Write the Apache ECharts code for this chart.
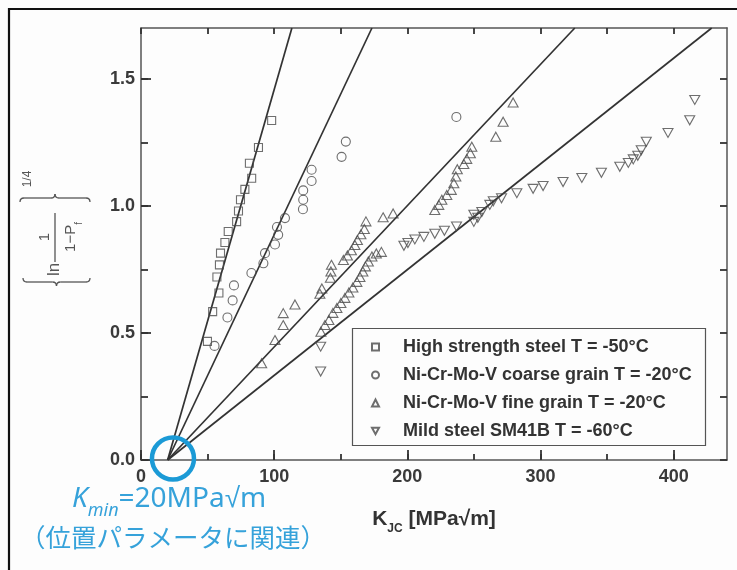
<!DOCTYPE html>
<html>
<head>
<meta charset="utf-8">
<script src="https://cdn.jsdelivr.net/npm/echarts@6/dist/echarts.min.js"></script>
<style>
html,body{margin:0;padding:0;background:#fdfdfd;}
#c{width:737px;height:570px;}
</style>
</head>
<body>
<div id="c"></div>
<script>
// ---- data ----
const seriesNames = [
  'High strength steel T = -50°C',
  'Ni-Cr-Mo-V coarse grain T = -20°C',
  'Ni-Cr-Mo-V fine grain T = -20°C',
  'Mild steel SM41B T = -60°C'
];
const highX = [98.1, 88.2, 81.4, 83.1, 78.0, 74.7, 73.2, 71.8, 65.5, 63.0, 59.7, 58.9, 57.0, 58.5, 53.8, 49.9];
const highY = [1.336, 1.230, 1.168, 1.109, 1.065, 1.024, 0.980, 0.938, 0.899, 0.856, 0.814, 0.768, 0.720, 0.657, 0.584, 0.467];

const coarseX = [236.8, 153.8, 150.6, 128.1, 128.1, 121.8, 121.8, 121.6, 108.1, 102.1, 103.0, 100.6, 93.1, 91.9, 82.9, 69.8, 68.8, 64.9, 55.2];
const coarseY = [1.350, 1.253, 1.193, 1.142, 1.098, 1.061, 1.024, 0.987, 0.952, 0.917, 0.886, 0.848, 0.814, 0.774, 0.736, 0.687, 0.628, 0.561, 0.449];

const fineX = [90.6, 100.6, 106.8, 106.8, 115.6, 134.3, 135.8, 142.2, 142.6, 143.0, 152.0, 155.0, 158.0, 160.6, 162.5, 165.1, 167.7, 168.9, 181.8, 189.3, 220.6, 223.6, 225.9, 229.6, 233.0, 234.9, 236.4, 237.5, 242.4, 244.6, 247.3, 248.4, 266.4, 271.9, 279.4,
  135.1, 138.1, 141.1, 144.1, 147.1, 150.1, 153.1, 156.1, 159.1, 162.1, 164.4, 166.6, 168.5, 170.7, 173.4, 176.7, 180.5];
const fineY = [0.381, 0.472, 0.531, 0.578, 0.612, 0.654, 0.675, 0.717, 0.742, 0.768, 0.787, 0.805, 0.825, 0.846, 0.866, 0.888, 0.909, 0.939, 0.955, 0.970, 0.984, 1.004, 1.024, 1.043, 1.063, 1.089, 1.116, 1.144, 1.165, 1.185, 1.207, 1.233, 1.272, 1.331, 1.407,
  0.505, 0.531, 0.551, 0.579, 0.598, 0.618, 0.638, 0.659, 0.679, 0.701, 0.720, 0.742, 0.762, 0.781, 0.801, 0.813, 0.819];

const mildX = [134.9, 134.9, 197.4, 200.4, 205.6, 212.4, 220.6, 227.8, 236.9, 249.9, 249.9, 252.9, 255.9, 261.9, 264.5, 270.7, 282.2, 294.4, 301.9, 316.9, 331.0, 345.7, 359.5, 365.9, 369.6, 373.0, 375.6, 379.4, 395.7, 412.0, 415.8];
const mildY = [0.348, 0.446, 0.843, 0.854, 0.868, 0.878, 0.890, 0.902, 0.919, 0.937, 0.965, 0.953, 0.976, 1.004, 1.018, 1.030, 1.050, 1.067, 1.078, 1.094, 1.110, 1.130, 1.154, 1.169, 1.183, 1.197, 1.219, 1.252, 1.287, 1.337, 1.417];

// fitted lines: all start at Kmin and leave the plot at the top edge
const lineStartX = 20;
const lineStartY = 0;
const lineTopX = [113.3, 173.4, 325.7, 428.5];
const lineTopY = 1.7;

const xMin = 0, xMax = 440, yMin = 0, yMax = 1.7;
const xMajorTicks = [0, 100, 200, 300, 400];
const xMinorTicks = [0, 50, 100, 150, 200, 250, 300, 350, 400];
const yMajorTicks = [0, 0.5, 1.0, 1.5];
const yMinorTicks = [0, 0.25, 0.5, 0.75, 1.0, 1.25, 1.5];
const kminCircleCenter = [24, 0];

// ---- chart ----
const chart = echarts.init(document.getElementById('c'), null, {renderer: 'canvas'});
const zip = (xs, ys) => xs.map((x, i) => [x, ys[i]]);
const pts = [zip(highX, highY), zip(coarseX, coarseY), zip(fineX, fineY), zip(mildX, mildY)];
const symbols = ['rect', 'circle', 'triangle', 'path://M0,0L20,0L10,18Z'];
const sizes = [8, 9, [10, 9], [10, 9]];

const markerStyle = {color: 'rgba(255,255,255,0)', borderColor: '#4a4a4a', borderWidth: 1.1};
const series = [];
for (let i = 0; i < 4; i++) {
  series.push({
    type: 'scatter', name: seriesNames[i], data: pts[i],
    symbol: symbols[i], symbolSize: sizes[i],
    itemStyle: markerStyle, xAxisIndex: 0, yAxisIndex: 0, z: 3,
    emphasis: {disabled: true}
  });
}
// every axis (all share the same range) carries one fit line so that its ticks are drawn
const lineAxis = [0, 1, 2, 0];
for (let i = 0; i < 4; i++) {
  series.push({
    type: 'line', name: 'fit' + i,
    data: [[lineStartX, lineStartY], [lineTopX[i], lineTopY]],
    symbol: 'none', lineStyle: {color: '#333', width: 1.7},
    xAxisIndex: lineAxis[i], yAxisIndex: lineAxis[i], z: 2, silent: true
  });
}

const labelFont = {fontFamily: 'Liberation Sans, Arial, sans-serif', fontWeight: 'bold', fontSize: 18, color: '#3a3a3a'};
const tickStyle = {color: '#333', width: 1.8};
const lineSt = {color: '#555', width: 1.5};

function ax(min, max, extra) {
  return Object.assign({
    type: 'value', min: min, max: max, splitLine: {show: false}, offset: 0,
    axisLine: {show: false}, axisTick: {show: false}, axisLabel: {show: false}
  }, extra);
}

function brace(xb, y0, y1, dir, d) {
  const ym = (y0 + y1) / 2;
  const st = {stroke: '#555', lineWidth: 1.3, fill: null};
  const q = (x1, y1_, cx, cy, x2, y2) => ({type: 'bezierCurve', shape: {x1: x1, y1: y1_, cpx1: cx, cpy1: cy, x2: x2, y2: y2}, style: st});
  const l = (x1, y1_, x2, y2) => ({type: 'line', shape: {x1: x1, y1: y1_, x2: x2, y2: y2}, style: st});
  return [
    q(xb - dir * d, y0, xb, y0, xb, y0 + d),
    l(xb, y0 + d, xb, ym - d),
    q(xb, ym - d, xb, ym, xb + dir * d, ym),
    q(xb + dir * d, ym, xb, ym, xb, ym + d),
    l(xb, ym + d, xb, y1 - d),
    q(xb, y1 - d, xb, y1, xb - dir * d, y1)
  ];
}

const ylabFont = 'Liberation Sans, Arial, sans-serif';
const yLabelGroup = {
  type: 'group', x: 55, y: 235, rotation: Math.PI / 2, silent: true,
  children: [].concat(
    brace(-47, -32, 35, -1, 4),
    brace(37, -35, 35, 1, 4),
    [
      {type: 'text', x: -41, y: -1, style: {text: 'ln', font: '17px ' + ylabFont, fill: '#555', align: 'left', verticalAlign: 'middle'}},
      {type: 'line', shape: {x1: -27, y1: 0, x2: 22, y2: 0}, style: {stroke: '#555', lineWidth: 1.3}},
      {type: 'text', x: -2, y: -10, style: {text: '1', font: '15px ' + ylabFont, fill: '#555', align: 'center', verticalAlign: 'middle'}},
      {type: 'text', x: -2, y: 16, style: {
        text: '1−P{f|f}', font: '15px ' + ylabFont, fill: '#555', align: 'center', verticalAlign: 'middle',
        rich: {f: {fontSize: 10, fontFamily: ylabFont, fill: '#555', verticalAlign: 'bottom', lineHeight: 26}}
      }},
      {type: 'text', x: 56, y: -27, style: {text: '1/4', font: '12px ' + ylabFont, fill: '#555', align: 'center', verticalAlign: 'middle'}}
    ]
  )
};

const option = {
  animation: false,
  backgroundColor: '#fdfdfd',
  grid: {left: 141, right: 10, top: 28, bottom: 110},
  legend: {
    show: true, orient: 'vertical', left: 371, top: 338, padding: 0,
    itemGap: 10, itemWidth: 7, itemHeight: 7, selectedMode: false,
    data: seriesNames,
    textStyle: {fontFamily: 'Liberation Sans, Arial, sans-serif', fontWeight: 'bold', fontSize: 18, lineHeight: 18, color: '#333', padding: [0, 0, 0, 19]},
    z: 6
  },
  xAxis: [
    ax(xMin, xMax, {
      position: 'bottom', interval: 50,
      axisLine: {show: true, onZero: false, lineStyle: lineSt},
      axisTick: {show: true, inside: true, length: 6, lineStyle: tickStyle, customValues: xMinorTicks},
      axisLabel: Object.assign({show: true, margin: 8, customValues: xMajorTicks,
        formatter: v => String(Math.round(v))}, labelFont),
      name: '{k|K}{s|JC}{k| [MPa√m]}', nameLocation: 'middle', nameGap: 43,
      nameTextStyle: {rich: {
        k: {fontFamily: 'Liberation Sans, Arial, sans-serif', fontWeight: 'bold', fontSize: 21, color: '#333', lineHeight: 24},
        s: {fontFamily: 'Liberation Sans, Arial, sans-serif', fontWeight: 'bold', fontSize: 12, color: '#333', lineHeight: 32, verticalAlign: 'bottom'}
      }}
    }),
    ax(xMin, xMax, {
      position: 'bottom', interval: 100,
      axisLine: {show: false, onZero: false},
      axisTick: {show: true, inside: true, length: 10, lineStyle: tickStyle, customValues: xMajorTicks}
    }),
    ax(xMin, xMax, {
      position: 'top', interval: 50,
      axisLine: {show: true, onZero: false, lineStyle: lineSt},
      axisTick: {show: true, inside: true, length: 6, lineStyle: tickStyle, customValues: xMinorTicks}
    })
  ],
  yAxis: [
    ax(yMin, yMax, {
      position: 'left', interval: 0.25,
      axisLine: {show: true, onZero: false, lineStyle: lineSt},
      axisTick: {show: true, inside: true, length: 7, lineStyle: tickStyle, customValues: yMinorTicks},
      axisLabel: Object.assign({show: true, margin: 6, customValues: yMajorTicks,
        formatter: v => Number(v).toFixed(1)}, labelFont)
    }),
    ax(yMin, yMax, {
      position: 'left', interval: 0.5,
      axisLine: {show: false, onZero: false},
      axisTick: {show: true, inside: true, length: 10, lineStyle: tickStyle, customValues: yMajorTicks}
    }),
    ax(yMin, yMax, {
      position: 'right', interval: 0.25,
      axisLine: {show: true, onZero: false, lineStyle: lineSt},
      axisTick: {show: true, inside: true, length: 7, lineStyle: tickStyle, customValues: yMinorTicks}
    })
  ],
  series: series,
  graphic: [
    {type: 'line', id: 'frameTop', shape: {x1: 8, y1: 9, x2: 737, y2: 9}, style: {stroke: '#111', lineWidth: 2.2}, z: 10, silent: true},
    {type: 'line', id: 'frameLeft', shape: {x1: 9, y1: 8, x2: 9, y2: 570}, style: {stroke: '#111', lineWidth: 2.2}, z: 10, silent: true},
    {type: 'rect', id: 'legendBox', shape: {x: 352.5, y: 328.5, width: 353, height: 117}, style: {fill: '#fdfdfd', stroke: '#555', lineWidth: 1.2}, z: 4, silent: true},
    yLabelGroup,
    {type: 'text', id: 'kmin', x: 72, y: 499, silent: true, z: 10, style: {
      text: '{k|K}{s|min}{t|=20MPa√m}', align: 'left', verticalAlign: 'middle',
      rich: {
        k: {fontFamily: 'Noto Sans, sans-serif', fontStyle: 'italic', fontSize: 28, fill: '#36a2da', lineHeight: 32},
        s: {fontFamily: 'Noto Sans, sans-serif', fontStyle: 'italic', fontSize: 18, fill: '#36a2da', lineHeight: 42, verticalAlign: 'bottom'},
        t: {fontFamily: 'Noto Sans, sans-serif', fontSize: 28, fill: '#36a2da', lineHeight: 32}
      }
    }},
    {type: 'text', id: 'jp', x: 20, y: 537, silent: true, z: 10, style: {
      text: '（位置パラメータに関連）', font: '25.5px "Noto Sans CJK JP"', fill: '#36a2da', align: 'left', verticalAlign: 'middle'
    }}
  ]
};
chart.setOption(option);

const cpx = chart.convertToPixel({xAxisIndex: 0, yAxisIndex: 0}, kminCircleCenter);
chart.setOption({graphic: [
  {type: 'circle', id: 'kminCircle', shape: {cx: cpx[0], cy: cpx[1] - 1.5, r: 21}, style: {fill: null, stroke: '#1b9ad6', lineWidth: 4.5}, z: 10, silent: true}
]});
</script>
</body>
</html>
